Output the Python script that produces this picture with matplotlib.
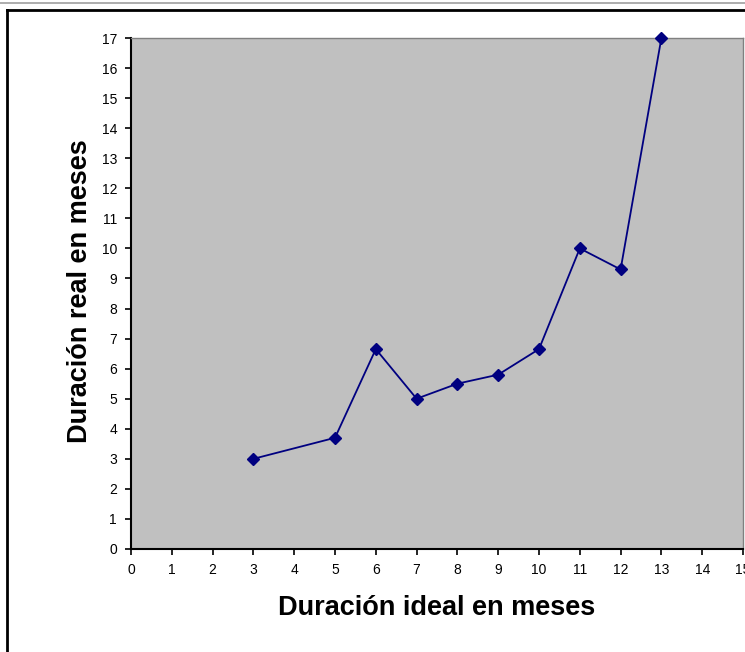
import matplotlib
matplotlib.use("Agg")
from matplotlib import pyplot as plt
from matplotlib.lines import Line2D

plt.rcParams['font.family'] = ['Liberation Sans', 'DejaVu Sans']

# datos
duracion_ideal = [3, 5, 6, 7, 8, 9, 10, 11, 12, 13]
duracion_real = [3, 3.7, 6.65, 5, 5.5, 5.8, 6.65, 10, 9.3, 17]
x_ticks = list(range(0, 16))
y_ticks = list(range(0, 18))

fig = plt.figure(figsize=(7.45, 6.52), dpi=100)

# marco exterior (cortado a la derecha y abajo)
fig.add_artist(Line2D([0, 1], [1 - 2.5 / 652] * 2, color='#a0a0a0', lw=1.2))
fig.add_artist(Line2D([7.5 / 745, 1], [1 - 10 / 652] * 2, color='black', lw=2))
fig.add_artist(Line2D([7.5 / 745] * 2, [0, 1 - 10 / 652], color='black', lw=2))

ax = fig.add_axes([131 / 745, 103 / 652, 612 / 745, 511 / 652])
ax.set_facecolor('#c0c0c0')

ax.plot(duracion_ideal, duracion_real, color='#000080', lw=1.3,
        marker='D', markersize=6.5, clip_on=False, zorder=3)

ax.set_xlim(0, 15)
ax.set_ylim(0, 17)
ax.set_xticks(x_ticks)
ax.set_yticks(y_ticks)
ax.tick_params(axis='both', labelsize=10, length=4, width=1.2, color='black',
               direction='out', pad=6)

for side in ['top', 'right']:
    ax.spines[side].set_color('#808080')
    ax.spines[side].set_linewidth(1)
for side in ['left', 'bottom']:
    ax.spines[side].set_color('black')
    ax.spines[side].set_linewidth(1.5)

fig.text(437 / 745, 1 - 608 / 652, 'Duración ideal en meses', ha='center',
         va='center', fontsize=19.5, fontweight='bold')
fig.text(80 / 745, 1 - 291 / 652, 'Duración real en meses', ha='center',
         va='center', rotation=90, fontsize=19.5, fontweight='bold')

fig.savefig('out.png', dpi=100)
